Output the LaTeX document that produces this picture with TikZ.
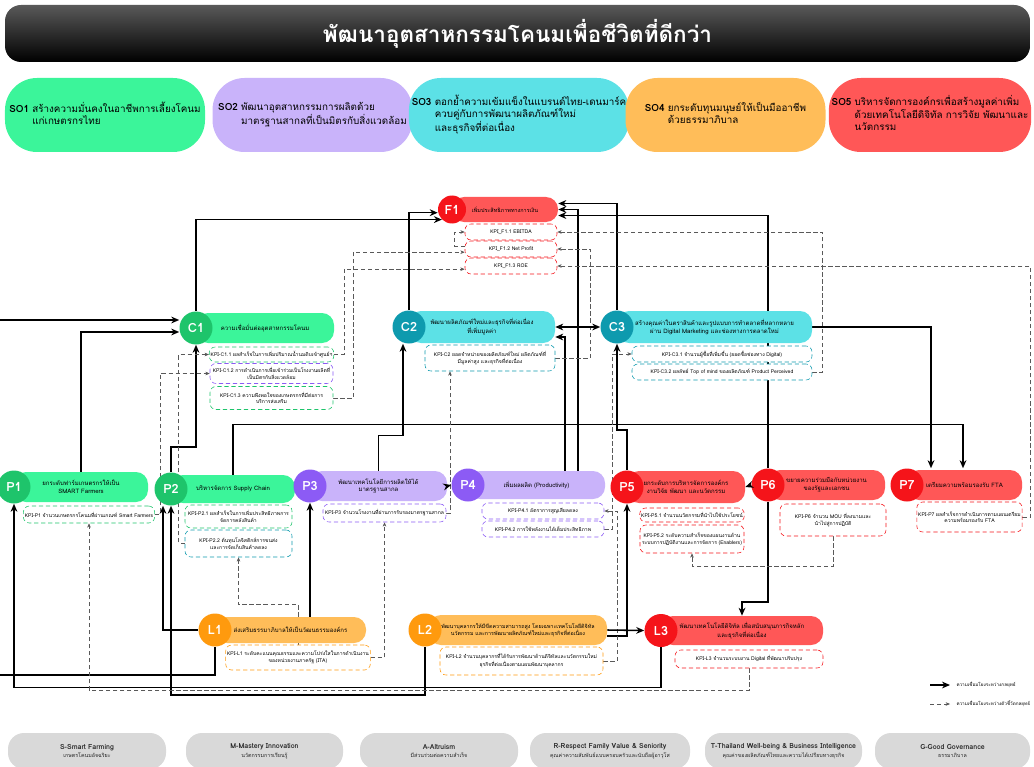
\documentclass[tikz,border=0pt]{standalone}
\usepackage{fontspec}
\setmainfont[Script=Thai]{Loma}
\usetikzlibrary{arrows.meta, calc, backgrounds}

\definecolor{grnL}{HTML}{3BF59A}
\definecolor{grnD}{HTML}{1EC46B}
\definecolor{purL}{HTML}{C9B3FA}
\definecolor{purD}{HTML}{8C5BF5}
\definecolor{cyaL}{HTML}{5CE1E6}
\definecolor{cyaD}{HTML}{0E9AAE}
\definecolor{orgL}{HTML}{FFBD59}
\definecolor{orgD}{HTML}{FF9A0E}
\definecolor{redL}{HTML}{FF5757}
\definecolor{redD}{HTML}{F5141A}
\definecolor{boxgray}{HTML}{D9D9D9}

\begin{document}
\begin{tikzpicture}[
  x=0.25mm, y=-0.25mm,
  >={Stealth[length=2mm, width=1.7mm]},
  every node/.style={font=\fontsize{5}{6.2}\selectfont},
  sobox/.style={rounded corners=8mm, minimum width=50mm, minimum height=18.5mm, inner sep=2pt, font=\fontsize{7}{8.6}\selectfont},
  bar/.style={rounded corners=3mm, align=center, inner sep=1pt, font=\fontsize{4.3}{5.4}\selectfont},
  dot/.style={circle, minimum size=8.25mm, inner sep=0pt, text=white, font=\fontsize{9}{9}\selectfont\bfseries},
  kpi/.style={draw=#1, densely dashed, fill=white, rounded corners=1.5mm, align=center, inner sep=1pt, line width=0.4pt, font=\fontsize{3.6}{4.6}\selectfont},
  sz/.style 2 args={minimum width=#1*0.25mm, minimum height=#2*0.25mm},
  link/.style={->, line width=1.1pt},
  kpilink/.style={-{Stealth[length=1.1mm, width=0.9mm]}, densely dashed, line width=0.4pt, black!65},
  value/.style={fill=boxgray, rounded corners=4mm, align=center, inner sep=1pt, text=black!85},
  legend/.style={right, inner sep=1pt, font=\fontsize{3.3}{4.2}\selectfont}
]
\useasboundingbox (0,0) rectangle (1034,767);

% Title bar
\node[rounded corners=4mm, top color=black!65, bottom color=black, text=white, sz={1025}{57},
  font=\fontsize{16}{19}\selectfont\bfseries] (title) at (517.5,33.5) {พัฒนาอุตสาหกรรมโคนมเพื่อชีวิตที่ดีกว่า};

% Strategic objectives
\node[sobox, fill=grnL] (so1) at (105,115)
  {\textbf{SO1}~\begin{tabular}[t]{@{}l@{}}สร้างความมั่นคงในอาชีพการเลี้ยงโคนม\\แก่เกษตรกรไทย\end{tabular}};
\node[sobox, fill=purL] (so2) at (312.5,115)
  {\textbf{SO2}~\begin{tabular}[t]{@{}l@{}}พัฒนาอุตสาหกรรมการผลิตด้วย\\มาตรฐานสากลที่เป็นมิตรกับสิ่งแวดล้อม\end{tabular}};
\node[sobox, fill=cyaL] (so3) at (519,115)
  {\textbf{SO3}~\begin{tabular}[t]{@{}l@{}}ตอกย้ำความเข้มแข็งในแบรนด์ไทย-เดนมาร์ค\\ควบคู่กับการพัฒนาผลิตภัณฑ์ใหม่\\และธุรกิจที่ต่อเนื่อง\end{tabular}};
\node[sobox, fill=orgL] (so4) at (725.5,115)
  {\textbf{SO4}~\begin{tabular}[t]{@{}l@{}}ยกระดับทุนมนุษย์ให้เป็นมืออาชีพ\\ด้วยธรรมาภิบาล\end{tabular}};
\node[sobox, fill=redL] (so5) at (930,115)
  {\textbf{SO5}~\begin{tabular}[t]{@{}l@{}}บริหารจัดการองค์กรเพื่อสร้างมูลค่าเพิ่ม\\ด้วยเทคโนโลยีดิจิทัล การวิจัย พัฒนาและ\\นวัตกรรม\end{tabular}};

% Financial
\node[bar, fill=redL, sz={106}{25}, font=\fontsize{3.9}{5}\selectfont] (f1bar) at (505,209.5) {เพิ่มประสิทธิภาพทางการเงิน};
\node[dot, fill=redD, minimum size=7mm] (f1) at (452,209.5) {F1};
\node[kpi=redD, sz={92}{16}] (kf11) at (511,232) {KPI\_F1.1 EBITDA};
\node[kpi=redD, sz={92}{16}] (kf12) at (511,249) {KPI\_F1.2 Net Profit};
\node[kpi=redD, sz={92}{16}] (kf13) at (511,266) {KPI\_F1.3 ROE};

% Customer
\node[bar, fill=grnL, sz={138}{30}] (c1bar) at (265,328) {ความเชื่อมั่นต่ออุตสาหกรรมโคนม};
\node[dot, fill=grnD] (c1) at (196,328) {C1};
\node[kpi=grnD, sz={123}{15}] (kc11) at (271.5,354.5) {KPI-C1.1 ผลสำเร็จในการเพิ่มปริมาณน้ำนมดิบเข้าศูนย์ฯ};
\node[kpi=purD, sz={123}{20}] (kc12) at (271.5,373.5) {KPI-C1.2 การดำเนินการเพื่อเข้าร่วมเป็นโรงงานผลิตที่\\เป็นมิตรกับสิ่งแวดล้อม};
\node[kpi=grnD, sz={123}{23}] (kc13) at (271.5,398) {KPI-C1.3 ความพึงพอใจของเกษตรกรที่มีต่อการ\\บริการส่งเสริม};

\node[bar, fill=cyaL, sz={146}{32}] (c2bar) at (482,327) {พัฒนาผลิตภัณฑ์ใหม่และธุรกิจที่ต่อเนื่อง\\ที่เพิ่มมูลค่า};
\node[dot, fill=cyaD] (c2) at (409,327) {C2};
\node[kpi=cyaD, sz={130}{26}] (kc2) at (490,358) {KPI-C2 ยอดจำหน่ายของผลิตภัณฑ์ใหม่ ผลิตภัณฑ์ที่\\มีมูลค่าสูง และธุรกิจที่ต่อเนื่อง};

\node[bar, fill=cyaL, sz={195}{32}] (c3bar) at (714.5,327) {สร้างคุณค่าในตราสินค้าและรูปแบบการทำตลาดที่หลากหลาย\\ผ่าน Digital Marketing และช่องทางการตลาดใหม่};
\node[dot, fill=cyaD] (c3) at (617,327) {C3};
\node[kpi=cyaD, sz={180}{16}] (kc31) at (722,354) {KPI-C3.1 จำนวนผู้ซื้อที่เพิ่มขึ้น (ยอดซื้อช่องทาง Digital)};
\node[kpi=cyaD, sz={180}{16}] (kc32) at (722,372) {KPI-C3.2 ผลลัพธ์ Top of mind ของผลิตภัณฑ์ Product Perceived};

% Internal process
\node[bar, fill=grnL, sz={134}{30}] (p1bar) at (81,487) {ยกระดับฟาร์มเกษตรกรให้เป็น\\SMART Farmers};
\node[dot, fill=grnD] (p1) at (14,487) {P1};
\node[kpi=grnD, sz={122}{17}] (kp1) at (89,514.5) {KPI-P1 จำนวนเกษตรกรโคนมที่ผ่านเกณฑ์ Smart Farmers};

\node[bar, fill=grnL, sz={124}{28}] (p2bar) at (233,489) {บริหารจัดการ Supply Chain};
\node[dot, fill=grnD] (p2) at (171,489) {P2};
\node[kpi=grnD, sz={107}{23}] (kp21) at (238.5,516.5) {KPI-P2.1 ผลสำเร็จในการเพิ่มประสิทธิภาพการ\\จัดการคลังสินค้า};
\node[kpi=cyaD, sz={107}{27}] (kp22) at (238.5,543.5) {KPI-P2.2 ต้นทุนโลจิสติกส์การขนส่ง\\และการจัดเก็บสินค้าลดลง};

\node[bar, fill=purL, sz={137}{30}] (p3bar) at (378.5,486) {พัฒนาเทคโนโลยีการผลิตให้ได้\\มาตรฐานสากล};
\node[dot, fill=purD] (p3) at (310,486) {P3};
\node[kpi=purD, sz={123}{18}] (kp3) at (384.5,513) {KPI-P3 จำนวนโรงงานที่ผ่านการรับรองมาตรฐานสากล};

\node[bar, fill=purL, sz={137}{28}] (p4bar) at (536.5,485) {เพิ่มผลผลิต (Productivity)};
\node[dot, fill=purD] (p4) at (468,485) {P4};
\node[kpi=purD, sz={122}{16}] (kp41) at (543,511) {KPI-P4.1 อัตราการสูญเสียลดลง};
\node[kpi=purD, sz={122}{16}] (kp42) at (543,529) {KPI-P4.2 การใช้พลังงานได้เต็มประสิทธิภาพ};

\node[bar, fill=redL, sz={118}{32}] (p5bar) at (686,487) {ยกระดับการบริหารจัดการองค์กร\\งานวิจัย พัฒนา และนวัตกรรม};
\node[dot, fill=redD] (p5) at (627,487) {P5};
\node[kpi=redD, sz={104}{14}] (kp51) at (692,515) {KPI-P5.1 จำนวนนวัตกรรมที่นำไปใช้ประโยชน์};
\node[kpi=redD, sz={104}{28}] (kp52) at (692,539) {KPI-P5.2 ระดับความสำเร็จของแผนงานด้าน\\ระบบการปฏิบัติงานและการจัดการ (Enablers)};

\node[bar, fill=redL, sz={117}{30}] (p6bar) at (826.5,485) {ขยายความร่วมมือกับหน่วยงาน\\ของรัฐและเอกชน};
\node[dot, fill=redD] (p6) at (768,485) {P6};
\node[kpi=redD, sz={106}{32}] (kp6) at (833,520) {KPI-P6 จำนวน MOU ที่ลงนามและ\\นำไปสู่การปฏิบัติ};

\node[bar, fill=redL, sz={115}{30}] (p7bar) at (964.5,485) {เตรียมความพร้อมรองรับ FTA};
\node[dot, fill=redD] (p7) at (907,485) {P7};
\node[kpi=redD, sz={103}{30}] (kp7) at (969.5,517) {KPI-P7 ผลสำเร็จการดำเนินการตามแผนเตรียม\\ความพร้อมรองรับ FTA};

% Learning and growth
\node[bar, fill=orgL, sz={151}{26}] (l1bar) at (290.5,630) {ส่งเสริมธรรมาภิบาลให้เป็นวัฒนธรรมองค์กร};
\node[dot, fill=orgD] (l1) at (215,630) {L1};
\node[kpi=orgD, sz={136}{25}] (kl1) at (298,657.5) {KPI-L1 ระดับคะแนนคุณธรรมและความโปร่งใสในการดำเนินงาน\\ของหน่วยงานภาครัฐ (ITA)};

\node[bar, fill=orgL, sz={178}{30}, font=\fontsize{3.8}{4.9}\selectfont] (l2bar) at (518,630) {พัฒนาบุคลากรให้มีขีดความสามารถสูง โดยเฉพาะเทคโนโลยีดิจิทัล\\นวัตกรรม และการพัฒนาผลิตภัณฑ์ใหม่และธุรกิจที่ต่อเนื่อง};
\node[dot, fill=orgD] (l2) at (425,630) {L2};
\node[kpi=orgD, sz={163}{28}] (kl2) at (521.5,661) {KPI-L2 จำนวนบุคลากรที่ได้รับการพัฒนาด้านดิจิทัลและนวัตกรรมใหม่\\ธุรกิจที่ต่อเนื่องตามแผนพัฒนาบุคลากร};

\node[bar, fill=redL, sz={162}{29}] (l3bar) at (742,630.5) {พัฒนาเทคโนโลยีดิจิทัล เพื่อสนับสนุนภารกิจหลัก\\และธุรกิจที่ต่อเนื่อง};
\node[dot, fill=redD] (l3) at (661,630.5) {L3};
\node[kpi=redD, sz={148}{18}] (kl3) at (749,659) {KPI-L3 จำนวนระบบงาน Digital ที่พัฒนาปรับปรุง};

% Core values
\node[value, sz={158}{36}] (v1) at (87,751) {\textbf{S-Smart Farming}\\{\fontsize{3.8}{4.6}\selectfont เกษตรโคนมอัจฉริยะ}};
\node[value, sz={157}{36}] (v2) at (264.5,751) {\textbf{M-Mastery Innovation}\\{\fontsize{3.8}{4.6}\selectfont นวัตกรรมการเรียนรู้}};
\node[value, sz={158}{36}] (v3) at (439,751) {\textbf{A-Altruism}\\{\fontsize{3.8}{4.6}\selectfont มีส่วนร่วมต่อความสำเร็จ}};
\node[value, sz={160}{36}] (v4) at (610,751) {\textbf{R-Respect Family Value \& Seniority}\\{\fontsize{3.8}{4.6}\selectfont คุณค่าความสัมพันธ์แบบครอบครัวและนับถือผู้อาวุโส}};
\node[value, sz={157}{36}] (v5) at (783.5,751) {\textbf{T-Thailand Well-being \& Business Intelligence}\\{\fontsize{3.8}{4.6}\selectfont คุณค่าของผลิตภัณฑ์ไทยและความได้เปรียบทางธุรกิจ}};
\node[value, sz={155}{36}] (v6) at (952.5,751) {\textbf{G-Good Governance}\\{\fontsize{3.8}{4.6}\selectfont ธรรมาภิบาล}};

% Legend
\coordinate (lga) at (930,685);
\coordinate (lgb) at (950,685);
\coordinate (lgc) at (930,704);
\coordinate (lgd) at (950,704);
\draw[link, line width=0.9pt] (lga) -- (lgb);
\node[legend] (lgt1) at ([xshift=1.2mm]lgb) {ความเชื่อมโยงระหว่างกลยุทธ์};
\draw[kpilink] (lgc) -- (lgd);
\node[legend] (lgt2) at ([xshift=1.2mm]lgd) {ความเชื่อมโยงระหว่างตัวชี้วัดกลยุทธ์};

% Links between objectives (behind the boxes)
\begin{scope}[on background layer]
\draw[link] (c2.north) |- ([yshift=-0.8mm]f1.west);
\draw[link] (c1.north) |- (f1.south west);
\draw[link] (c3.north) |- ([yshift=1.5mm]f1bar.east);
\draw[link] ($(p4bar.north)+(41.5,0)$) |- (f1bar.east);
\draw[link] (p6.north) |- ([yshift=-1.5mm]f1bar.east);
\draw[link] (p1bar.north) |- ([yshift=-1mm]c1.west);
\draw[link] (l1.south) -- ++(0,28) -| ([xshift=-55mm, yshift=2mm]c1.west) -- ([yshift=2mm]c1.west);
\draw[link] (p2.north) -- ++(0,-25) -| (c1.south);
\draw[link] (p3bar.north) -- ++(0,-35) -| ([xshift=-1.5mm]c2.south);
\draw[link] ($(p4bar.north)+(28.5,0)$) |- ([yshift=-2.5mm]c2bar.east);
\draw[link] (p5.north) -- ++(0,-40) -| (c3.south);
\draw[link] (c3bar.east) -| ([xshift=6mm]p7.north);
\draw[link] (p2bar.north) -- ++(0,-50) -| ([xshift=14mm]p7.north);
\draw[link] (l1bar.north -| p3.south) -- (p3.south);
\draw[link] (l1.west) -| ([xshift=-2mm]p2.south);
\draw[link] (l2.south) -- ++(0,48) -| (p2.south);
\draw[link] (l3.south) -- ++(0,40) -| (p1.south);
\draw[link] ([yshift=-1.5mm]l2bar.east) -| (p5.south);
\draw[link] (p6.south) -- ++(0,100) -| (l3bar.north);
% Links between indicators
\draw[kpilink] (kc11.east) -- ++(10,0) |- ([yshift=-0.8mm]kf13.west);
\draw[kpilink] (kc13.east) -- ++(20,0) |- ([yshift=-0.8mm]kf12.west);
\draw[kpilink] ([yshift=0.8mm]kf12.west) -- ++(-10,0) |- (kf11.west);
\draw[kpilink] (kc2.east) -- ++(35,0) |- (kf12.east);
\draw[kpilink] (kc32.east) -- ++(10,0) |- (kf11.east);
\draw[kpilink] (kp7.east) -- ++(8,0) |- (kf13.east);
\draw[kpilink] (kp1.east) -- ++(5,0) |- (kc12.west);
\draw[kpilink] (kp22.west) -- ++(-6,0) |- (kc11.west);
\draw[kpilink] (kp3.east) -| ([xshift=-10mm]kc2.south);
\draw[kpilink] (kp42.east) -- ++(8,0) |- (kc31.west);
\draw[kpilink] (kl1.north) -- ++(0,-40) -| (kp22.south);
\draw[kpilink] (kl1.east) -| (kp3.south);
\draw[kpilink] (kl2.east) -- ++(14,0) |- (kp41.east);
\draw[kpilink] (kl3.south) -- ++(0,22) -| (kp1.south);
\draw[kpilink] (kp6.south) -- ++(0,30) -| (kp52.south);
\end{scope}

% Short links drawn on top
\draw[link] (p3bar.east) -- (p4.west);
\draw[link] (p6.west) -- (p5bar.east);
\draw[link, <->] (c2bar.east) -- (c3.west);
\draw[link] (l2bar.east) -- (l3.west);

\end{tikzpicture}
\end{document}
